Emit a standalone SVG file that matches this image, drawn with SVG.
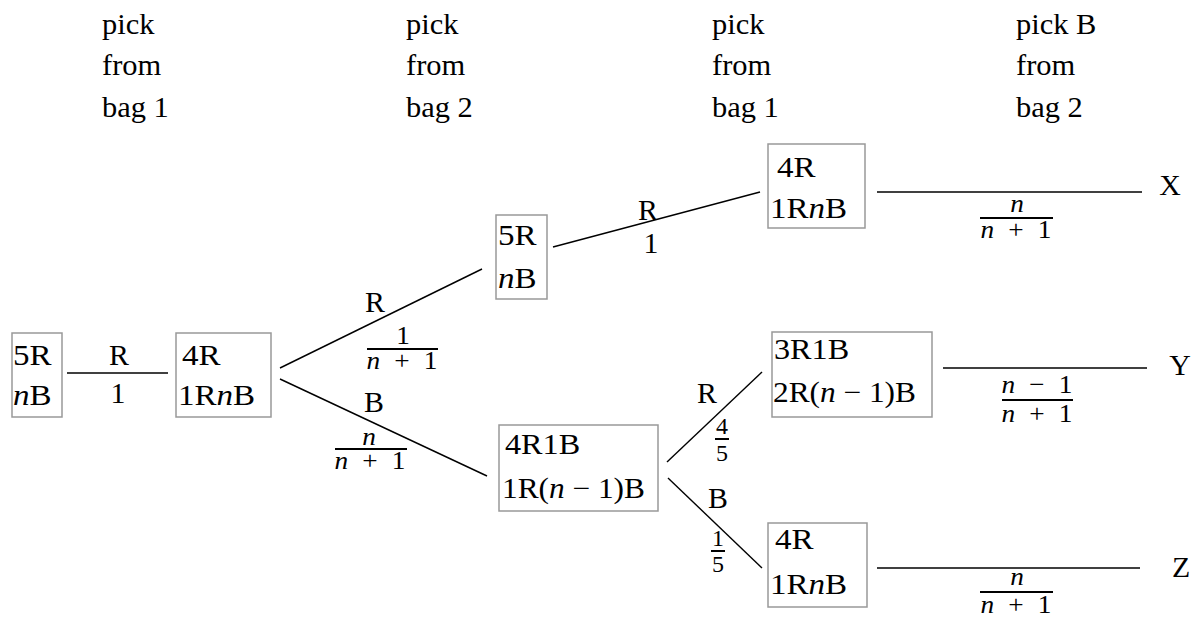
<svg xmlns="http://www.w3.org/2000/svg" width="1197" height="617" viewBox="0 0 1197 617">
<style>
text{font-family:"Liberation Serif","Times New Roman",serif;fill:#000}
.hd{font-size:29px}
.bx{font-size:29px}
.lb{font-size:29px;text-anchor:middle}
.fr{font-size:26px;text-anchor:middle;word-spacing:7px}
.sf{font-size:24px;text-anchor:middle}
.i{font-style:italic}
rect.box{fill:#fff;stroke:#999;stroke-width:1.5}
.edge{stroke:#000;stroke-width:1.4;fill:none}
.bar{stroke:#000;stroke-width:2;fill:none}
</style>
<rect width="1197" height="617" fill="#fff"/>
<g id="headers">
<text class="hd" transform="matrix(1.05 0 0 1 102 34)">pick</text>
<text class="hd" transform="matrix(1.05 0 0 1 102 75)">from</text>
<text class="hd" transform="matrix(1.05 0 0 1 102 117)">bag 1</text>
<text class="hd" transform="matrix(1.05 0 0 1 406 34)">pick</text>
<text class="hd" transform="matrix(1.05 0 0 1 406 75)">from</text>
<text class="hd" transform="matrix(1.05 0 0 1 406 117)">bag 2</text>
<text class="hd" transform="matrix(1.05 0 0 1 712 34)">pick</text>
<text class="hd" transform="matrix(1.05 0 0 1 712 75)">from</text>
<text class="hd" transform="matrix(1.05 0 0 1 712 117)">bag 1</text>
<text class="hd" transform="matrix(1.05 0 0 1 1016 34)">pick B</text>
<text class="hd" transform="matrix(1.05 0 0 1 1016 75)">from</text>
<text class="hd" transform="matrix(1.05 0 0 1 1016 117)">bag 2</text>
</g>
<g id="connectors">
<line class="edge" x1="67" y1="373" x2="168" y2="373"/>
<line class="edge" x1="280" y1="368" x2="482" y2="269"/>
<line class="edge" x1="280" y1="379" x2="487" y2="476"/>
<line class="edge" x1="553" y1="247" x2="760" y2="192"/>
<line class="edge" x1="877" y1="192" x2="1142" y2="192"/>
<line class="edge" x1="667" y1="462" x2="762" y2="372"/>
<line class="edge" x1="668" y1="478" x2="762" y2="568"/>
<line class="edge" x1="943" y1="368" x2="1147" y2="368"/>
<line class="edge" x1="877" y1="568" x2="1140" y2="568"/>
</g>
<g id="edge-labels">
<text class="lb" transform="matrix(1.03 0 0 1 119 365)">R</text>
<text class="lb" transform="matrix(1.03 0 0 1 118 403)">1</text>
<text class="lb" transform="matrix(1.03 0 0 1 375 312)">R</text>
<text class="fr" transform="matrix(1.05 0 0 1 403 344)">1</text>
<line class="bar" x1="367" y1="349" x2="438" y2="349"/>
<text class="fr" transform="matrix(1.05 0 0 1 402 369)"><tspan class="i">n</tspan> + 1</text>
<text class="lb" transform="matrix(1.03 0 0 1 374 412)">B</text>
<text class="fr i" transform="matrix(1.05 0 0 1 369 445)">n</text>
<line class="bar" x1="335" y1="449" x2="407" y2="449"/>
<text class="fr" transform="matrix(1.05 0 0 1 370 469)"><tspan class="i">n</tspan> + 1</text>
<text class="lb" transform="matrix(1.03 0 0 1 648 220)">R</text>
<text class="lb" transform="matrix(1.03 0 0 1 651 253)">1</text>
<text class="lb" transform="matrix(1.03 0 0 1 1170 195)">X</text>
<text class="fr i" transform="matrix(1.05 0 0 1 1017 212)">n</text>
<line class="bar" x1="980" y1="218" x2="1053" y2="218"/>
<text class="fr" transform="matrix(1.05 0 0 1 1016 238)"><tspan class="i">n</tspan> + 1</text>
<text class="lb" transform="matrix(1.03 0 0 1 1180 375)">Y</text>
<text class="fr" transform="matrix(1.05 0 0 1 1037 393)"><tspan class="i">n</tspan> − 1</text>
<line class="bar" x1="1002" y1="400" x2="1073" y2="400"/>
<text class="fr" transform="matrix(1.05 0 0 1 1037 422)"><tspan class="i">n</tspan> + 1</text>
<text class="lb" transform="matrix(1.03 0 0 1 1181 577)">Z</text>
<text class="fr i" transform="matrix(1.05 0 0 1 1017 585)">n</text>
<line class="bar" x1="980" y1="592" x2="1053" y2="592"/>
<text class="fr" transform="matrix(1.05 0 0 1 1016 613)"><tspan class="i">n</tspan> + 1</text>
<text class="lb" transform="matrix(1.03 0 0 1 707 403)">R</text>
<text class="sf" transform="translate(722 434)">4</text>
<line class="bar" x1="715" y1="439" x2="729" y2="439"/>
<text class="sf" transform="translate(722 461)">5</text>
<text class="lb" transform="matrix(1.03 0 0 1 718 508)">B</text>
<text class="sf" transform="translate(718 546)">1</text>
<line class="bar" x1="711" y1="551" x2="725" y2="551"/>
<text class="sf" transform="translate(718 572)">5</text>
</g>
<g id="n1">
<rect class="box" x="12" y="333" width="50" height="84"/>
<text class="bx" transform="matrix(1.14 0 0 1 13 365)">5R</text>
<text class="bx" transform="matrix(1.14 0 0 1 13 405)"><tspan class="i">n</tspan>B</text>
</g>
<g id="n2">
<rect class="box" x="176" y="333" width="95" height="84"/>
<text class="bx" transform="matrix(1.14 0 0 1 182 365)">4R</text>
<text class="bx" transform="matrix(1.14 0 0 1 178 405)">1R<tspan class="i">n</tspan>B</text>
</g>
<g id="n3">
<rect class="box" x="496" y="215" width="51" height="84"/>
<text class="bx" transform="matrix(1.14 0 0 1 498 245)">5R</text>
<text class="bx" transform="matrix(1.14 0 0 1 498 288)"><tspan class="i">n</tspan>B</text>
</g>
<g id="n4">
<rect class="box" x="499" y="425" width="159" height="86"/>
<text class="bx" transform="matrix(1.11 0 0 1 505 454)">4R1B</text>
<text class="bx" transform="matrix(1.08 0 0 1 502 498)">1R(<tspan class="i">n</tspan> − 1)B</text>
</g>
<g id="n5">
<rect class="box" x="768" y="144" width="97" height="84"/>
<text class="bx" transform="matrix(1.14 0 0 1 777 177)">4R</text>
<text class="bx" transform="matrix(1.14 0 0 1 770 218)">1R<tspan class="i">n</tspan>B</text>
</g>
<g id="n6">
<rect class="box" x="772" y="332" width="160" height="85"/>
<text class="bx" transform="matrix(1.11 0 0 1 774 359)">3R1B</text>
<text class="bx" transform="matrix(1.08 0 0 1 773 402)">2R(<tspan class="i">n</tspan> − 1)B</text>
</g>
<g id="n7">
<rect class="box" x="768" y="523" width="99" height="84"/>
<text class="bx" transform="matrix(1.14 0 0 1 775 549)">4R</text>
<text class="bx" transform="matrix(1.14 0 0 1 770 594)">1R<tspan class="i">n</tspan>B</text>
</g>
</svg>
